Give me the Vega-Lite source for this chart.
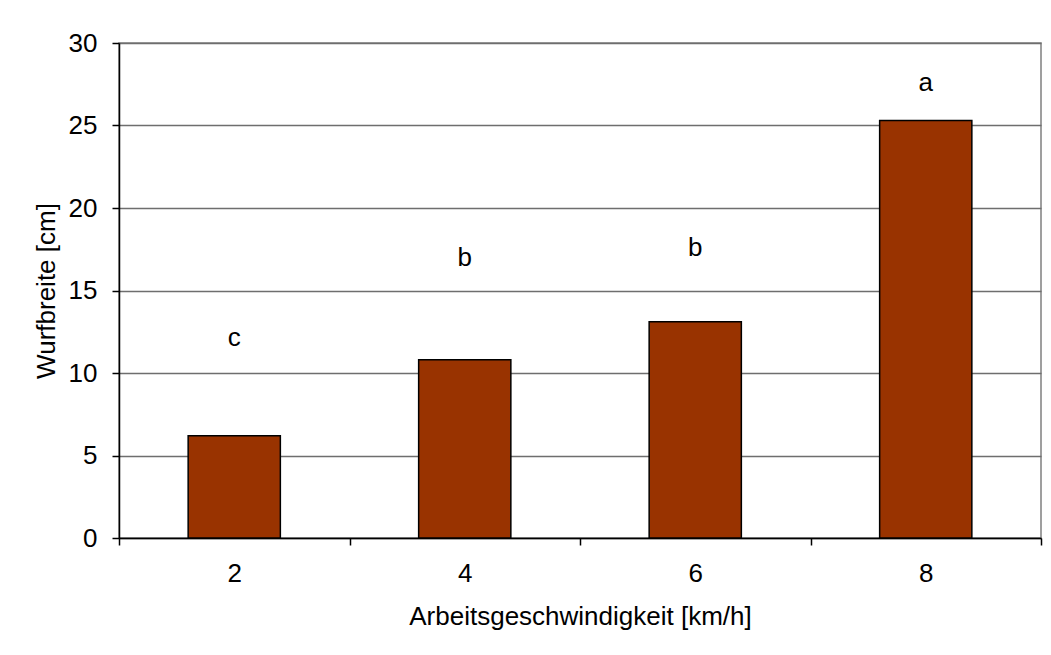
{
  "$schema": "https://vega.github.io/schema/vega-lite/v6.json",
  "width": 922,
  "height": 495,
  "autosize": {"type": "none"},
  "padding": {"left": 119, "top": 43, "right": 10, "bottom": 117},
  "background": "white",
  "data": {
    "values": [
      {"speed": "2", "width": 6.2, "letter": "c", "letterY": 12.1},
      {"speed": "4", "width": 10.8, "letter": "b", "letterY": 17.0},
      {"speed": "6", "width": 13.1, "letter": "b", "letterY": 17.6},
      {"speed": "8", "width": 25.3, "letter": "a", "letterY": 27.6}
    ]
  },
  "config": {
    "font": "Liberation Sans",
    "view": {"stroke": "#808080", "strokeWidth": 1.5},
    "axis": {
      "labelFont": "Liberation Sans",
      "titleFont": "Liberation Sans",
      "labelFontSize": 26,
      "titleFontSize": 26,
      "titleFontWeight": "normal",
      "labelColor": "black",
      "titleColor": "black",
      "domainColor": "black",
      "tickColor": "black",
      "tickSize": 7,
      "domainWidth": 1.5,
      "tickWidth": 1.5
    }
  },
  "layer": [
    {
      "mark": {"type": "bar", "color": "#993300", "stroke": "black", "strokeWidth": 1.5, "width": {"band": 0.4}},
      "encoding": {
        "x": {
          "field": "speed",
          "type": "ordinal",
          "sort": null,
          "scale": {"paddingInner": 0, "paddingOuter": 0},
          "axis": {
            "title": "Arbeitsgeschwindigkeit [km/h]",
            "labelAngle": 0,
            "tickBand": "extent",
            "labelPadding": 15,
            "titlePadding": 17,
            "grid": false
          }
        },
        "y": {
          "field": "width",
          "type": "quantitative",
          "scale": {"domain": [0, 30], "nice": false},
          "axis": {
            "title": "Wurfbreite [cm]",
            "values": [0, 5, 10, 15, 20, 25, 30],
            "grid": true,
            "gridColor": "#6e6e6e",
            "gridWidth": 1.5,
            "labelPadding": 15,
            "titlePadding": 9
          }
        }
      }
    },
    {
      "mark": {"type": "text", "fontSize": 26, "font": "Liberation Sans", "color": "black", "baseline": "middle"},
      "encoding": {
        "x": {"field": "speed", "type": "ordinal", "sort": null},
        "y": {"field": "letterY", "type": "quantitative"},
        "text": {"field": "letter"}
      }
    }
  ]
}
